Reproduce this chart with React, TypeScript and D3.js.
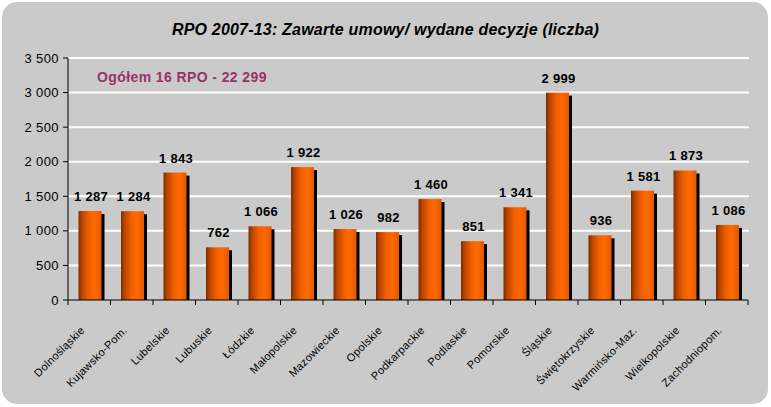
import React from 'react';
import * as d3 from 'd3';

// Regions (województwa) and number of signed contracts / decisions
const regions = [
  'Dolnośląskie', 'Kujawsko-Pom.', 'Lubelskie', 'Lubuskie', 'Łódzkie',
  'Małopolskie', 'Mazowieckie', 'Opolskie', 'Podkarpackie', 'Podlaskie',
  'Pomorskie', 'Śląskie', 'Świętokrzyskie', 'Warmińsko-Maz.', 'Wielkopolskie',
  'Zachodniopom.',
];
const contracts = [1287, 1284, 1843, 762, 1066, 1922, 1026, 982, 1460, 851, 1341, 2999, 936, 1581, 1873, 1086];
const yTicks = [0, 500, 1000, 1500, 2000, 2500, 3000, 3500];

const title = 'RPO 2007-13: Zawarte umowy/ wydane decyzje (liczba)';
const totalNote = 'Ogółem 16 RPO - 22 299';

const W = 771;
const H = 407;
const margin = { top: 58, right: 23, bottom: 107, left: 68 };

const fmt = (v: number) => d3.format(',')(v).replace(/,/g, ' ');

function App() {
  const innerW = W - margin.left - margin.right;
  const innerH = H - margin.top - margin.bottom;

  const x = d3.scaleBand<string>().domain(regions).range([0, innerW]);
  const y = d3.scaleLinear().domain([0, 3500]).range([innerH, 0]);

  const barW = 23;
  const barOff = 10.5;
  const shadow = 3;

  return (
    <svg width={W} height={H} style={{ display: 'block', position: 'absolute', left: 0, top: 0 }}>
      <defs>
        <linearGradient id="barGrad" x1="0" x2="1" y1="0" y2="0">
          <stop offset="0%" stopColor="#7a2c00" />
          <stop offset="15%" stopColor="#b84300" />
          <stop offset="45%" stopColor="#f06000" />
          <stop offset="70%" stopColor="#ff6a00" />
          <stop offset="100%" stopColor="#e35800" />
        </linearGradient>
        <clipPath id="plotClip">
          <rect x={0} y={-20} width={innerW} height={innerH + 20} />
        </clipPath>
      </defs>
      <rect x={0} y={0} width={W} height={H} fill="#ffffff" />
      <rect x={2} y={2} width={766} height={402} rx={15} ry={15} fill="#cacaca" />

      <text
        x={W / 2}
        y={35}
        textAnchor="middle"
        fontFamily="'Liberation Sans', Arial, sans-serif"
        fontSize={16}
        fontWeight="bold"
        fontStyle="italic"
        letterSpacing={0.2}
        fill="#000"
      >
        {title}
      </text>

      <g transform={`translate(${margin.left},${margin.top})`} fontFamily="'Liberation Sans', Arial, sans-serif">
        {/* gridlines */}
        {yTicks.filter((t) => t > 0).map((t) => (
          <line key={t} x1={0} x2={innerW + 1} y1={y(t)} y2={y(t)} stroke="#ffffff" strokeWidth={2} />
        ))}

        {/* bars */}
        <g clipPath="url(#plotClip)">
          {regions.map((r, i) => {
            const bx = (x(r) ?? 0) + barOff;
            const by = y(contracts[i]);
            return (
              <g key={r}>
                <rect x={bx + shadow} y={by + shadow} width={barW} height={innerH - by} fill="#000" />
                <rect x={bx} y={by} width={barW} height={innerH - by} fill="url(#barGrad)" />
              </g>
            );
          })}
        </g>

        {/* value labels */}
        {regions.map((r, i) => (
          <text
            key={r}
            x={(x(r) ?? 0) + barOff + barW / 2 + 1}
            y={y(contracts[i]) - 10}
            textAnchor="middle"
            fontSize={13}
            fontWeight="bold"
            letterSpacing={0.3}
            fill="#000"
          >
            {fmt(contracts[i])}
          </text>
        ))}

        {/* y axis */}
        <line x1={0} x2={0} y1={0} y2={innerH} stroke="#000" strokeWidth={1} />
        {yTicks.map((t) => (
          <g key={t} transform={`translate(0,${y(t)})`}>
            <line x1={-5} x2={0} stroke="#000" />
            <text x={-9} dy="0.35em" textAnchor="end" fontSize={13} letterSpacing={0.4} fill="#000">
              {fmt(t)}
            </text>
          </g>
        ))}

        {/* x axis */}
        <line x1={0} x2={innerW} y1={innerH} y2={innerH} stroke="#000" />
        {[...regions.map((r) => x(r) ?? 0), innerW].map((p, i) => (
          <line key={i} x1={p} x2={p} y1={innerH} y2={innerH + 5} stroke="#000" />
        ))}
        {regions.map((r) => {
          const cx = (x(r) ?? 0) + x.bandwidth() / 2 - 4;
          return (
            <text
              key={r}
              transform={`translate(${cx},${innerH + 31}) rotate(-45)`}
              textAnchor="end"
              fontSize={11}
              letterSpacing={0.3}
              fill="#000"
            >
              {r}
            </text>
          );
        })}

        <text x={29} y={24} fontSize={14} fontWeight="bold" letterSpacing={0.4} fill="#993366">
          {totalNote}
        </text>
      </g>
    </svg>
  );
}

export default App;
